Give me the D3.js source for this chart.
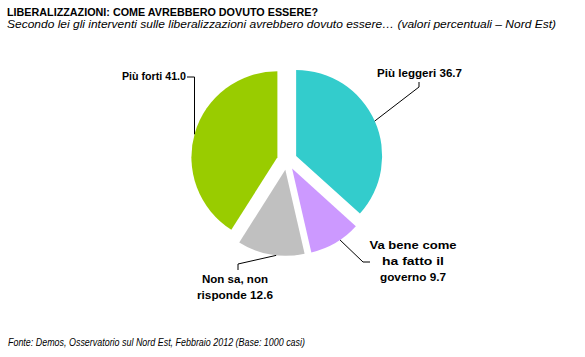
<!DOCTYPE html>
<html><head><meta charset="utf-8">
<script src="https://cdn.jsdelivr.net/npm/d3@7/dist/d3.min.js"></script>
<style>body{margin:0;background:#fff}svg{display:block}</style>
</head><body>
<svg id="c" width="585" height="357"></svg>
<script>
const categories = ["Più leggeri", "Va bene come ha fatto il governo", "Non sa, non risponde", "Più forti"];
const values = [36.7, 9.7, 12.6, 41.0];
const colors = ["#33CCCC", "#CC99FF", "#C0C0C0", "#99CC00"];
const labelLines = [["Più leggeri 36.7"], ["Va bene come", "ha fatto il", "governo 9.7"], ["Non sa, non", "risponde 12.6"], ["Più forti 41.0"]];

const svg = d3.select("#c");
const font = "Liberation Sans, Arial, sans-serif";
const cx = 287, cy = 160, r = 86, explode = 10;

svg.append("text").attr("x", 7).attr("y", 16).attr("font-family", font).attr("font-weight", "bold")
  .attr("font-size", 11.5).attr("textLength", 311).attr("lengthAdjust", "spacingAndGlyphs")
  .text("LIBERALIZZAZIONI: COME AVREBBERO DOVUTO ESSERE?");
svg.append("text").attr("x", 7).attr("y", 28).attr("font-family", font).attr("font-style", "italic")
  .attr("font-size", 10.5).attr("textLength", 549).attr("lengthAdjust", "spacingAndGlyphs")
  .text("Secondo lei gli interventi sulle liberalizzazioni avrebbero dovuto essere… (valori percentuali – Nord Est)");
svg.append("text").attr("x", 8).attr("y", 346).attr("font-family", font).attr("font-style", "italic")
  .attr("font-size", 10).attr("textLength", 297).attr("lengthAdjust", "spacingAndGlyphs")
  .text("Fonte: Demos, Osservatorio sul Nord Est, Febbraio  2012 (Base: 1000 casi)");

const pie = d3.pie().sort(null).value(d => d);
const arcs = pie(values);
const arc = d3.arc().innerRadius(0).outerRadius(r);
const g = svg.append("g").attr("transform", `translate(${cx},${cy})`);
g.selectAll("path").data(arcs).join("path")
  .attr("transform", d => {
    const a = (d.startAngle + d.endAngle) / 2;
    return `translate(${explode * Math.sin(a)},${-explode * Math.cos(a)})`;
  })
  .attr("d", arc).attr("fill", (d, i) => colors[i]);

function edge(d, frac) {
  const a = d.startAngle + (d.endAngle - d.startAngle) * frac;
  const m = (d.startAngle + d.endAngle) / 2;
  return [cx + explode * Math.sin(m) + r * Math.sin(a), cy - explode * Math.cos(m) - r * Math.cos(a)];
}
const pG = edge(arcs[3], 0.495);
const leaders = [
  [edge(arcs[0], 0.5), [419, 87], [419, 82]],
  [edge(arcs[1], 0.4), [363, 262], [370, 262]],
  [edge(arcs[2], 0.42), [238, 264], [238, 270]],
  [pG, [pG[0], 77], [187, 77]]
];
const line = d3.line();
svg.selectAll("path.leader").data(leaders).join("path").attr("class", "leader")
  .attr("d", d => line(d)).attr("fill", "none").attr("stroke", "#000").attr("stroke-width", 1);

const labelPos = [
  {x: 377, y: 77, anchor: "start", w: [85]},
  {x: 413, y: 249, anchor: "middle", w: [87, 62, 66]},
  {x: 235, y: 283, anchor: "middle", w: [66, 76]},
  {x: 186, y: 80, anchor: "end", w: [64]}
];
labelLines.forEach((lines, i) => {
  const p = labelPos[i];
  lines.forEach((t, j) => {
    svg.append("text").attr("x", p.x).attr("y", p.y + j * 16).attr("text-anchor", p.anchor)
      .attr("font-family", font).attr("font-weight", "bold").attr("font-size", 11)
      .attr("textLength", p.w[j]).attr("lengthAdjust", "spacingAndGlyphs").text(t);
  });
});
</script>
</body></html>
